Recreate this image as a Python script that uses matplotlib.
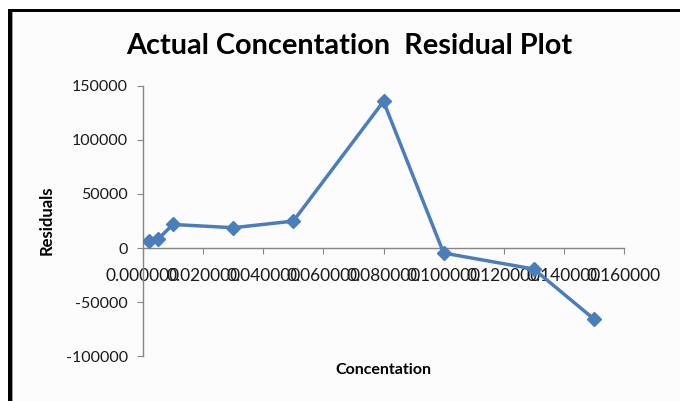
import matplotlib.pyplot as plt
import matplotlib.patches as patches
from matplotlib.ticker import FormatStrFormatter, MultipleLocator

plt.rcParams['font.family'] = ['Lato', 'DejaVu Sans']
plt.rcParams['axes.unicode_minus'] = False

# данные с графика остатков
concentration = [0.002, 0.005, 0.010, 0.030, 0.050, 0.080, 0.100, 0.130, 0.150]
residuals = [6100, 8300, 21800, 18800, 24900, 135500, -4600, -19400, -65600]

fig = plt.figure(figsize=(6.8, 4.01), dpi=100)
fig.patch.set_facecolor('white')

# рамка как в Excel
fig.patches.append(patches.Rectangle((8/680, 0), 672/680, 1 - 9/401, transform=fig.transFigure,
                                     facecolor='#fcfcfc', edgecolor='none', zorder=-3))
fig.patches.append(patches.Rectangle((8/680, 1 - 12/401), 672/680, 3/401, transform=fig.transFigure,
                                     facecolor='black', edgecolor='none', zorder=-2))
fig.patches.append(patches.Rectangle((8/680, 0), 3.5/680, 1 - 9/401, transform=fig.transFigure,
                                     facecolor='black', edgecolor='none', zorder=-2))
fig.patches.append(patches.Rectangle((11.5/680, 0), 1.5/680, 1 - 12/401, transform=fig.transFigure,
                                     facecolor='#9a9a9a', edgecolor='none', zorder=-2))

ax = fig.add_axes([143/680, 1 - 356.3/401, 481/680, 270.6/401])
ax.patch.set_alpha(0)
ax.plot(concentration, residuals, color='#4a7ebb', linewidth=2.5, marker='D', markersize=7, zorder=3)

ax.set_xlim(0, 0.16)
ax.set_ylim(-100000, 150000)
ax.xaxis.set_major_locator(MultipleLocator(0.02))
ax.xaxis.set_major_formatter(FormatStrFormatter('%.6f'))
ax.yaxis.set_major_locator(MultipleLocator(50000))

ax.spines['top'].set_visible(False)
ax.spines['right'].set_visible(False)
ax.spines['bottom'].set_position(('data', 0))
for s in ['left', 'bottom']:
    ax.spines[s].set_color('#868686')
    ax.spines[s].set_linewidth(1)

ax.tick_params(axis='x', direction='out', length=4, color='#868686', pad=10, labelsize=12.5, labelcolor='#1a1a1a')
ax.tick_params(axis='y', direction='out', length=4, color='#868686', pad=7, labelsize=11.5, labelcolor='#1a1a1a')

fig.text(349/680, 1 - 46/401, 'Actual Concentation  Residual Plot', ha='center', va='center',
         fontsize=20.8, fontweight='bold')
fig.text(47/680, 1 - 220/401, 'Residuals', ha='center', va='center', rotation=90,
         fontsize=12, fontweight='bold')
fig.text(383/680, 1 - 370/401, 'Concentation', ha='center', va='center',
         fontsize=11.5, fontweight='bold')

plt.savefig('out.png', dpi=100)
